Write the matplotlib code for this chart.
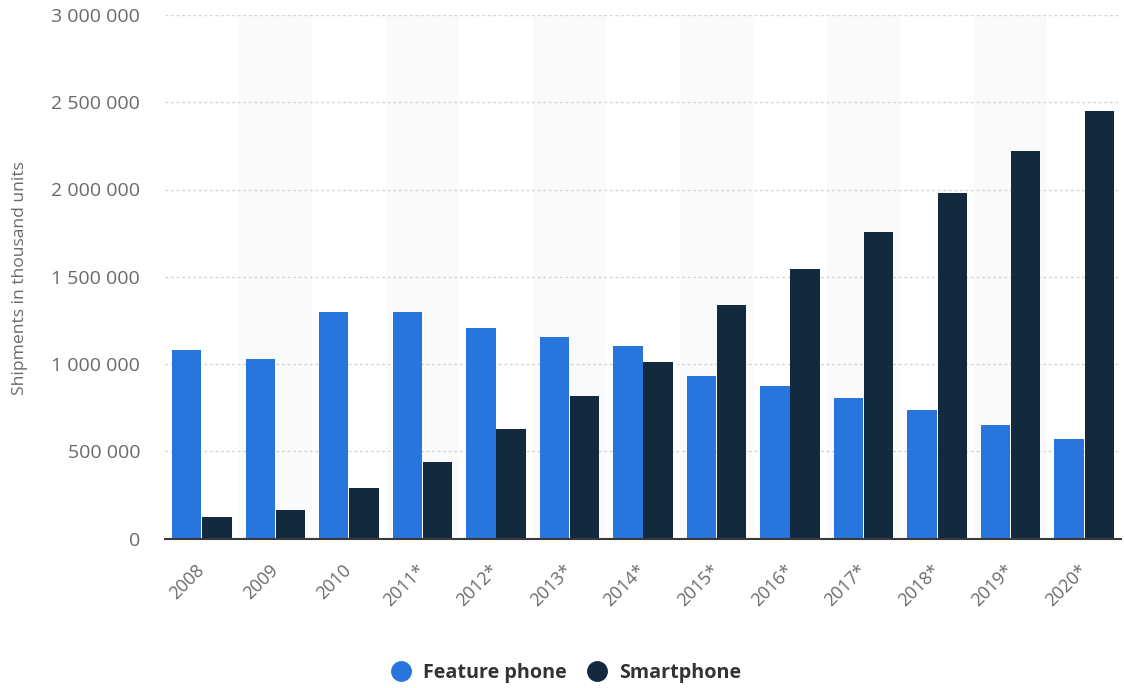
import matplotlib
matplotlib.use("Agg")
import matplotlib.pyplot as plt
from matplotlib.lines import Line2D
from matplotlib.ticker import FuncFormatter, MultipleLocator

# Global mobile phone shipments, in thousand units
years = ["2008", "2009", "2010", "2011*", "2012*", "2013*", "2014*",
         "2015*", "2016*", "2017*", "2018*", "2019*", "2020*"]
feature_phone = [1079000, 1027000, 1296000, 1296000, 1205000, 1155000, 1106000,
                 931000, 873000, 803000, 735000, 649000, 572000]
smartphone = [122000, 164000, 289000, 436000, 630000, 816000, 1010000,
              1339000, 1545000, 1759000, 1982000, 2220000, 2452000]
series_names = ["Feature phone", "Smartphone"]

FP_COLOR = "#2876dd"
SP_COLOR = "#13293e"
TEXT_GRAY = "#6a6a6a"

plt.rcParams["font.family"] = ["Open Sans", "DejaVu Sans"]

W, H = 1124, 688
fig = plt.figure(figsize=(W / 100, H / 100), dpi=100)
left, right, top, bottom = 165, 1121, 15, 538.5
ax = fig.add_axes([left / W, 1 - bottom / H, (right - left) / W, (bottom - top) / H])

n = len(years)
x = list(range(n))
bw = 0.40
off = 0.205

# alternating light column bands
for i in x:
    if i % 2 == 1:
        ax.axvspan(i - 0.5, i + 0.5, color="#fafafa", zorder=0, lw=0)

ax.bar([i - off for i in x], feature_phone, width=bw, color=FP_COLOR, zorder=3)
ax.bar([i + off for i in x], smartphone, width=bw, color=SP_COLOR, zorder=3)

ax.set_xlim(-0.5, n - 0.5)
ax.set_ylim(0, 3000000)
ax.yaxis.set_major_locator(MultipleLocator(500000))
ax.yaxis.set_major_formatter(FuncFormatter(lambda v, p: f"{v:,.0f}".replace(",", " ")))
ax.grid(axis="y", color="#d4d4d4", linestyle=(0, (2, 2)), linewidth=1, zorder=1)
ax.set_axisbelow(True)

for s in ["left", "right", "top"]:
    ax.spines[s].set_visible(False)
ax.spines["bottom"].set_color("#3a3a3a")
ax.spines["bottom"].set_linewidth(1.5)
ax.spines["bottom"].set_zorder(4)

ax.tick_params(axis="y", length=0, pad=18, labelsize=14, labelcolor=TEXT_GRAY)
ax.set_xticks(x)
ax.set_xticklabels(years, rotation=45, ha="right", va="center",
                   rotation_mode="anchor")
ax.tick_params(axis="x", length=0, pad=21, labelsize=13, labelcolor=TEXT_GRAY)

fig.text(20.5 / W, 1 - 278 / H, "Shipments in thousand units", rotation=90,
         ha="center", va="center", fontsize=12.6, color=TEXT_GRAY)

handles = [Line2D([], [], marker="o", linestyle="none", markersize=14,
                  markerfacecolor=c, markeredgecolor=c) for c in (FP_COLOR, SP_COLOR)]
leg = fig.legend(handles, series_names, loc="center", bbox_to_anchor=(0.4995, 1 - 673 / H),
                 ncol=2, frameon=False, handletextpad=0.1, columnspacing=0.55,
                 prop={"weight": "bold", "size": 14.2})
for t in leg.get_texts():
    t.set_color("#333333")

fig.savefig("out.png", dpi=100)
